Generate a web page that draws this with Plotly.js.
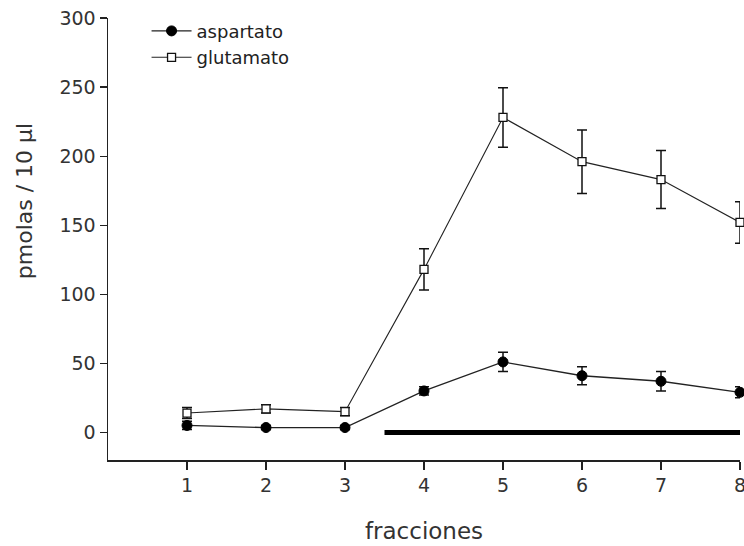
<!DOCTYPE html>
<html>
<head>
<meta charset="utf-8">
<script src="https://cdn.plot.ly/plotly-3.0.1.min.js"></script>
<style>html,body{margin:0;padding:0;background:#fff;}#chart{width:744px;height:546px;}</style>
</head>
<body>
<div id="chart"></div>
<script>
const fracciones = [1, 2, 3, 4, 5, 6, 7, 8];
const aspartato = [5, 3.5, 3.5, 30, 51, 41, 37, 29];
const aspartatoErr = [3, 1.5, 1.5, 3, 7, 6.5, 7, 4];
const glutamato = [14, 17, 15, 118, 228, 196, 183, 152];
const glutamatoErr = [4, 3, 3, 15, 21.5, 23, 21, 15];
const barraX = [3.5, 8];
const barraY = [0, 0];
const yTicks = [0, 50, 100, 150, 200, 250, 300];
const yTitle = 'pmolas / 10 µl';
const xTitle = 'fracciones';

const font = 'DejaVu Sans, sans-serif';

const traces = [
  {
    x: barraX, y: barraY, mode: 'lines', showlegend: false, hoverinfo: 'skip',
    line: {color: '#000', width: 5}, cliponaxis: false
  },
  {
    x: fracciones, y: aspartato, name: 'aspartato', mode: 'lines+markers',
    line: {color: '#222', width: 1.3},
    marker: {symbol: 'circle', size: 10, color: '#000', line: {color: '#000', width: 1}},
    error_y: {type: 'data', array: aspartatoErr, visible: true, color: '#111', thickness: 1.5, width: 5},
    cliponaxis: false
  },
  {
    x: fracciones, y: glutamato, name: 'glutamato', mode: 'lines+markers',
    line: {color: '#222', width: 1.1},
    marker: {symbol: 'square', size: 8, color: '#fff', line: {color: '#111', width: 1.3}},
    error_y: {type: 'data', array: glutamatoErr, visible: true, color: '#111', thickness: 1.5, width: 5},
    cliponaxis: false
  }
];

const layout = {
  width: 744, height: 546,
  margin: {l: 108, r: 4, t: 18, b: 86},
  paper_bgcolor: '#fff', plot_bgcolor: '#fff',
  font: {family: font, color: '#333'},
  showlegend: true,
  legend: {
    x: 0.061, y: 1.012, xanchor: 'left', yanchor: 'top',
    font: {family: font, size: 18, color: '#222'},
    bgcolor: 'rgba(0,0,0,0)', tracegroupgap: 0, itemwidth: 40
  },
  xaxis: {
    range: [0, 8], tickvals: fracciones, ticktext: fracciones.map(String),
    showgrid: false, zeroline: false, showline: true, linecolor: '#222', linewidth: 1.5,
    ticks: 'outside', ticklen: 8, tickcolor: '#222', tickwidth: 1.2,
    ticklabeloverflow: 'allow',
    tickfont: {family: font, size: 19, color: '#333'},
    title: {text: xTitle, font: {family: font, size: 23, color: '#333'}, standoff: 27}
  },
  yaxis: {
    range: [-20, 300], tickvals: yTicks,
    showgrid: false, zeroline: false, showline: true, linecolor: '#222', linewidth: 1.5,
    ticks: 'outside', ticklen: 7, tickcolor: '#222', tickwidth: 1.2,
    tickfont: {family: font, size: 19, color: '#333'}
  },
  annotations: [{
    text: yTitle, xref: 'paper', yref: 'paper', x: -0.131, y: 0.586,
    xanchor: 'center', yanchor: 'middle', textangle: -90, showarrow: false,
    font: {family: font, size: 22, color: '#333'}
  }]
};

Plotly.newPlot('chart', traces, layout, {displayModeBar: false, staticPlot: true});
</script>
</body>
</html>
